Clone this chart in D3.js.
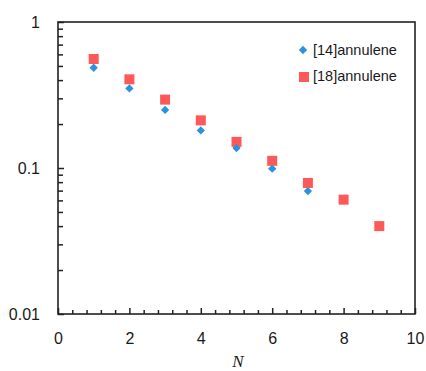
<!DOCTYPE html>
<html>
<head>
<meta charset="utf-8">
<script src="https://cdn.jsdelivr.net/npm/d3@7"></script>
<style>
  body { margin: 0; background: #fff; }
  text { font-family: "Liberation Sans", Arial, sans-serif; }
</style>
</head>
<body>
<div id="chart"></div>
<script>
// data
const N14 = [1, 2, 3, 4, 5, 6, 7]
const val14 = [0.486, 0.351, 0.25, 0.181, 0.137, 0.099, 0.0695]
const N18 = [1, 2, 3, 4, 5, 6, 7, 8, 9]
const val18 = [0.558, 0.405, 0.294, 0.212, 0.151, 0.112, 0.079, 0.0607, 0.040]
const seriesNames = ["[14]annulene", "[18]annulene"]
const xMajor = [0, 2, 4, 6, 8, 10]
const yMajor = [0.01, 0.1, 1]

const W = 426, H = 371
const margin = { left: 58, top: 22, right: 11, bottom: 57 }
const ink = "#222"
const blue = "#2a93dc", red = "#ff5858"

const svg = d3.select("#chart").append("svg")
    .attr("width", W).attr("height", H)

const x = d3.scaleLinear().domain([0, 10]).range([margin.left, W - margin.right])
const y = d3.scaleLog().domain([0.01, 1]).range([H - margin.bottom, margin.top])

const xMinor = d3.range(0, 26).map(i => +(i * 0.4).toFixed(1)).filter(v => xMajor.indexOf(v) < 0)
const yMinor = []
;[0.01, 0.1].forEach(d => { for (let k = 2; k <= 9; k++) yMinor.push(d * k) })

// minor ticks
svg.append("g")
    .attr("transform", "translate(0," + y.range()[0] + ")")
    .call(d3.axisBottom(x).tickValues(xMinor).tickSize(-4).tickFormat(""))
svg.append("g")
    .attr("transform", "translate(" + x.range()[0] + ",0)")
    .call(d3.axisLeft(y).tickValues(yMinor).tickSize(-5).tickFormat(""))

// major ticks + labels
svg.append("g")
    .attr("transform", "translate(0," + y.range()[0] + ")")
    .call(d3.axisBottom(x).tickValues(xMajor).tickSize(-6).tickPadding(19).tickFormat(d3.format("d")))
svg.append("g")
    .attr("transform", "translate(" + x.range()[0] + ",0)")
    .call(d3.axisLeft(y).tickValues(yMajor).tickSize(-6).tickPadding(18).tickFormat(d => String(d)))

svg.selectAll(".domain").remove()
svg.selectAll(".tick line").attr("stroke", ink).attr("stroke-width", 1.5)
svg.selectAll(".tick text").attr("fill", "#1a1a1a").style("font-size", "16px")
    .style("font-family", "Liberation Sans, Arial, sans-serif")

// frame
svg.append("rect")
    .attr("x", x.range()[0]).attr("y", y.range()[1])
    .attr("width", x.range()[1] - x.range()[0])
    .attr("height", y.range()[0] - y.range()[1])
    .attr("fill", "none").attr("stroke", ink).attr("stroke-width", 1.6)

const diamond = d3.symbol().type(d3.symbolDiamond2).size(44)

// [18]annulene squares
svg.selectAll("rect.s18")
    .data(N18.map((n, i) => [n, val18[i]]))
    .enter().append("rect")
    .attr("class", "s18")
    .attr("x", d => x(d[0]) - 5).attr("y", d => y(d[1]) - 5)
    .attr("width", 10).attr("height", 10)
    .attr("fill", red)

// [14]annulene diamonds
svg.selectAll("path.s14")
    .data(N14.map((n, i) => [n, val14[i]]))
    .enter().append("path")
    .attr("class", "s14")
    .attr("d", diamond)
    .attr("transform", d => "translate(" + x(d[0]) + "," + y(d[1]) + ")")
    .attr("fill", blue)

// legend
const leg = svg.append("g")
leg.append("path").attr("d", diamond)
    .attr("transform", "translate(303,50)").attr("fill", blue)
leg.append("rect").attr("x", 299).attr("y", 72).attr("width", 10).attr("height", 10).attr("fill", red)
leg.selectAll("text").data(seriesNames).enter().append("text")
    .attr("x", 313).attr("y", (d, i) => 55 + i * 26)
    .style("font-size", "14.5px").attr("fill", "#1a1a1a")
    .text(d => d)

// axis title
svg.append("text")
    .attr("x", 238).attr("y", 367)
    .attr("text-anchor", "middle")
    .style("font-family", "Liberation Serif, Times New Roman, serif")
    .style("font-style", "italic").style("font-size", "17px")
    .attr("fill", "#1a1a1a")
    .text("N")
</script>
</body>
</html>
